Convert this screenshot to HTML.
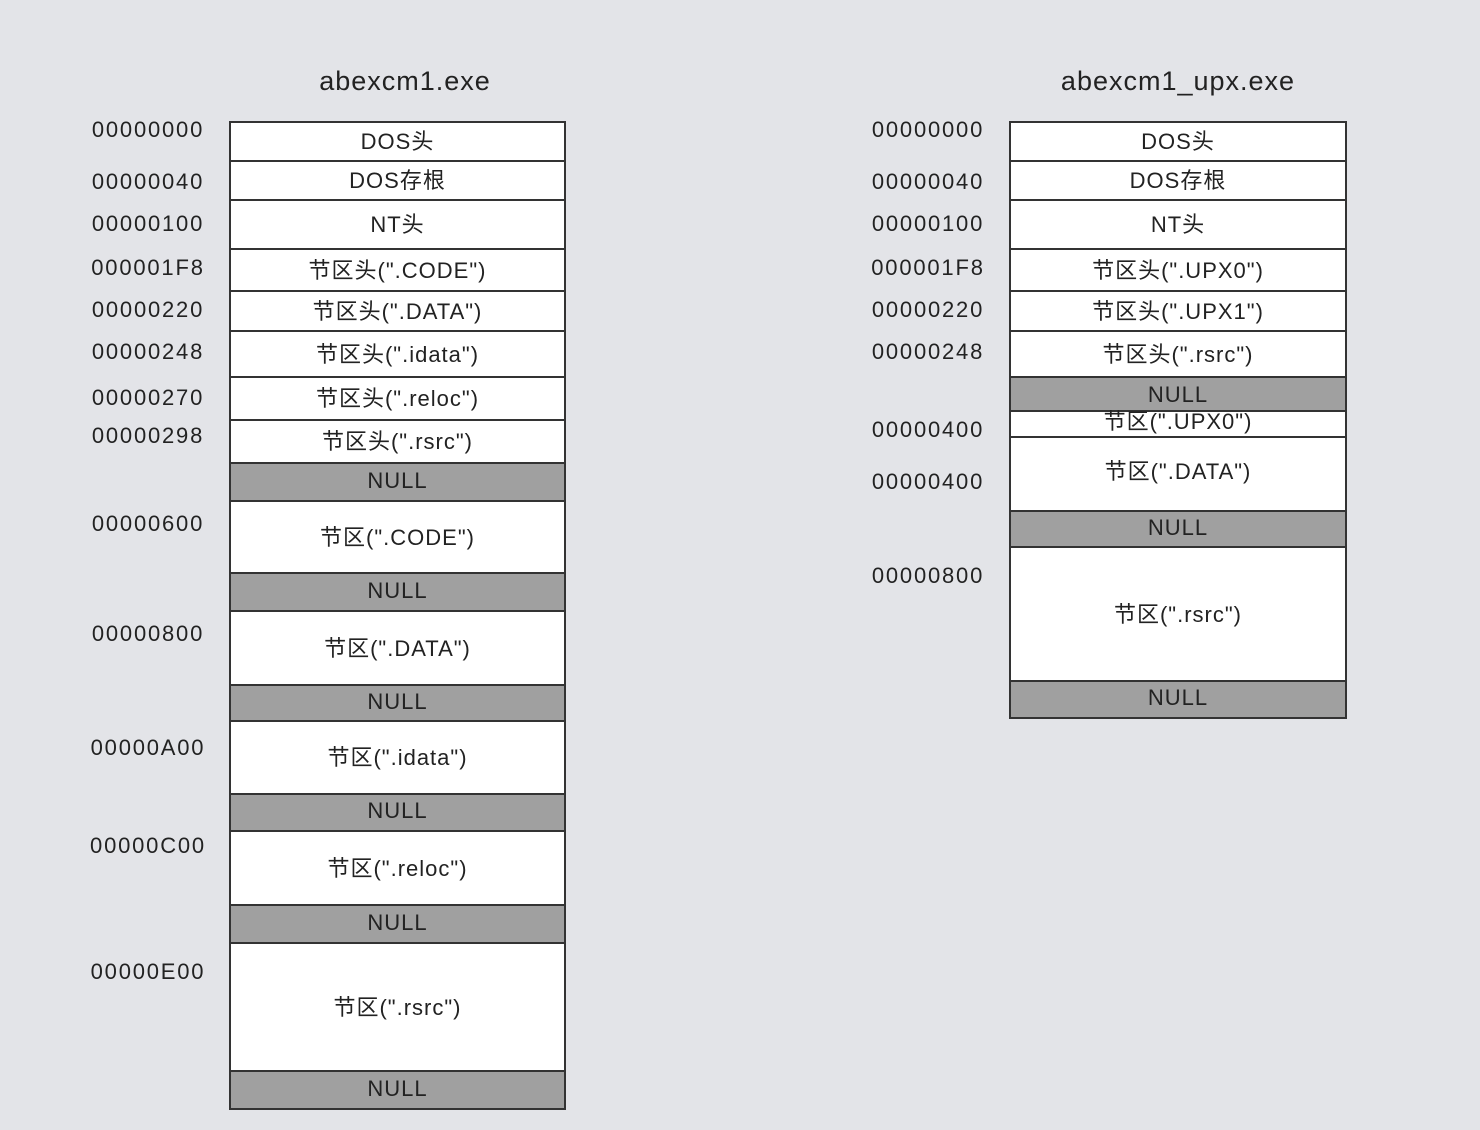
<!DOCTYPE html>
<html><head><meta charset="utf-8"><style>
body{margin:0;width:1480px;height:1130px;background:#e3e4e8;font-family:"Liberation Sans","Noto Sans CJK SC",sans-serif;color:#222;position:relative;overflow:hidden}
.r{position:absolute;box-sizing:border-box;border:2px solid #333;background:#fff;display:flex;align-items:center;justify-content:center;font-size:22px;letter-spacing:1px;padding-bottom:3px}
.n{background:#a0a0a0}
.l{position:absolute;font-size:22px;width:160px;text-align:center;letter-spacing:1.8px}
.t{position:absolute;font-size:27px;width:400px;text-align:center;letter-spacing:1px}
</style></head><body>
<div class="t" style="left:205px;top:66px">abexcm1.exe</div>
<div class="t" style="left:978px;top:66px">abexcm1_upx.exe</div>

<div class="r" style="left:229px;top:121px;width:337px;height:41px">DOS头</div>
<div class="r" style="left:229px;top:160px;width:337px;height:41px">DOS存根</div>
<div class="r" style="left:229px;top:199px;width:337px;height:51px">NT头</div>
<div class="r" style="left:229px;top:248px;width:337px;height:44px">节区头(".CODE")</div>
<div class="r" style="left:229px;top:290px;width:337px;height:42px">节区头(".DATA")</div>
<div class="r" style="left:229px;top:330px;width:337px;height:48px">节区头(".idata")</div>
<div class="r" style="left:229px;top:376px;width:337px;height:45px">节区头(".reloc")</div>
<div class="r" style="left:229px;top:419px;width:337px;height:45px">节区头(".rsrc")</div>
<div class="r n" style="left:229px;top:462px;width:337px;height:40px">NULL</div>
<div class="r" style="left:229px;top:500px;width:337px;height:74px">节区(".CODE")</div>
<div class="r n" style="left:229px;top:572px;width:337px;height:40px">NULL</div>
<div class="r" style="left:229px;top:610px;width:337px;height:76px">节区(".DATA")</div>
<div class="r n" style="left:229px;top:684px;width:337px;height:38px">NULL</div>
<div class="r" style="left:229px;top:720px;width:337px;height:75px">节区(".idata")</div>
<div class="r n" style="left:229px;top:793px;width:337px;height:39px">NULL</div>
<div class="r" style="left:229px;top:830px;width:337px;height:76px">节区(".reloc")</div>
<div class="r n" style="left:229px;top:904px;width:337px;height:40px">NULL</div>
<div class="r" style="left:229px;top:942px;width:337px;height:130px">节区(".rsrc")</div>
<div class="r n" style="left:229px;top:1070px;width:337px;height:40px">NULL</div>

<div class="l" style="left:68px;top:117px">00000000</div>
<div class="l" style="left:68px;top:169px">00000040</div>
<div class="l" style="left:68px;top:211px">00000100</div>
<div class="l" style="left:68px;top:255px">000001F8</div>
<div class="l" style="left:68px;top:297px">00000220</div>
<div class="l" style="left:68px;top:339px">00000248</div>
<div class="l" style="left:68px;top:385px">00000270</div>
<div class="l" style="left:68px;top:423px">00000298</div>
<div class="l" style="left:68px;top:511px">00000600</div>
<div class="l" style="left:68px;top:621px">00000800</div>
<div class="l" style="left:68px;top:735px">00000A00</div>
<div class="l" style="left:68px;top:833px">00000C00</div>
<div class="l" style="left:68px;top:959px">00000E00</div>

<div class="r" style="left:1009px;top:121px;width:338px;height:41px">DOS头</div>
<div class="r" style="left:1009px;top:160px;width:338px;height:41px">DOS存根</div>
<div class="r" style="left:1009px;top:199px;width:338px;height:51px">NT头</div>
<div class="r" style="left:1009px;top:248px;width:338px;height:44px">节区头(".UPX0")</div>
<div class="r" style="left:1009px;top:290px;width:338px;height:42px">节区头(".UPX1")</div>
<div class="r" style="left:1009px;top:330px;width:338px;height:48px">节区头(".rsrc")</div>
<div class="r n" style="left:1009px;top:376px;width:338px;height:36px;padding-top:4px">NULL</div>
<div class="r" style="left:1009px;top:410px;width:338px;height:28px;line-height:20px;padding-bottom:5px">节区(".UPX0")</div>
<div class="r" style="left:1009px;top:436px;width:338px;height:76px;padding-bottom:8px">节区(".DATA")</div>
<div class="r n" style="left:1009px;top:510px;width:338px;height:38px">NULL</div>
<div class="r" style="left:1009px;top:546px;width:338px;height:136px">节区(".rsrc")</div>
<div class="r n" style="left:1009px;top:680px;width:338px;height:39px">NULL</div>

<div class="l" style="left:848px;top:117px">00000000</div>
<div class="l" style="left:848px;top:169px">00000040</div>
<div class="l" style="left:848px;top:211px">00000100</div>
<div class="l" style="left:848px;top:255px">000001F8</div>
<div class="l" style="left:848px;top:297px">00000220</div>
<div class="l" style="left:848px;top:339px">00000248</div>
<div class="l" style="left:848px;top:417px">00000400</div>
<div class="l" style="left:848px;top:469px">00000400</div>
<div class="l" style="left:848px;top:563px">00000800</div>
</body></html>
